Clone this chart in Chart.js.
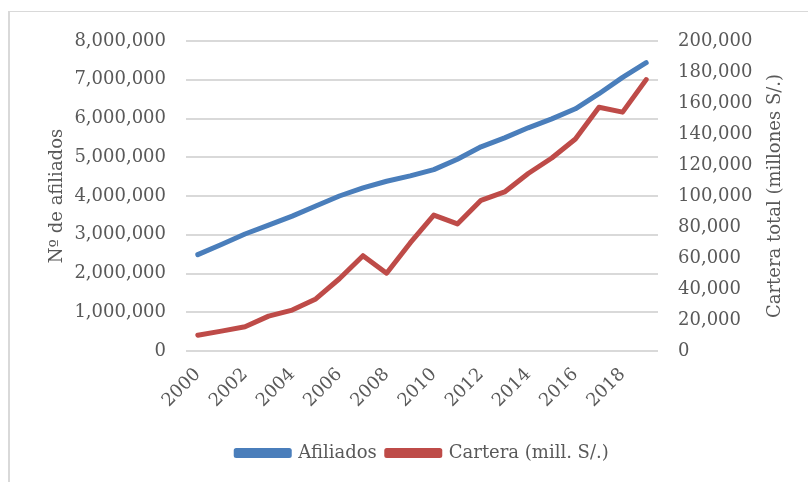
<!DOCTYPE html>
<html>
<head>
<meta charset="utf-8">
<script src="https://cdn.jsdelivr.net/npm/chart.js@4"></script>
<style>
  html, body { margin: 0; padding: 0; background: #fff; }
  #frame { position: absolute; left: 8px; top: 11px; width: 808px; height: 470px;
           border-top: 1px solid #d9d9d9; border-left: 2px solid #d9d9d9; }
  #wrap { position: absolute; left: 0; top: 0; width: 808px; height: 482px; }
</style>
</head>
<body>
<div id="frame"></div>
<div id="wrap"><canvas id="myChart"></canvas></div>
<script>
var years = ['2000', '2001', '2002', '2003', '2004', '2005', '2006', '2007', '2008', '2009',
             '2010', '2011', '2012', '2013', '2014', '2015', '2016', '2017', '2018', '2019'];
var afiliados = [2486000, 2750000, 3020000, 3250000, 3480000, 3740000, 4000000, 4210000, 4380000, 4520000,
                 4680000, 4950000, 5270000, 5500000, 5760000, 5990000, 6250000, 6640000, 7060000, 7440000];
var cartera = [10200, 12800, 15600, 22500, 26400, 33600, 46600, 61500, 50200, 69700,
               87700, 82000, 97200, 102600, 114500, 124500, 136800, 157300, 154100, 175100];
var rightTitle = 'Cartera total (millones S/.)';

var textColor = '#595959';
var fontFam = '"DejaVu Serif", serif';

// Excel puts the right axis title reading bottom-to-top, Chart.js rotates it the other way
var rightTitlePlugin = {
    id: 'rightTitle',
    afterDraw: function (chart) {
        var c = chart.ctx;
        var area = chart.chartArea;
        c.save();
        c.translate(775, (area.top + area.bottom) / 2);
        c.rotate(-Math.PI / 2);
        c.fillStyle = textColor;
        c.font = '18px ' + fontFam;
        c.textAlign = 'center';
        c.textBaseline = 'middle';
        c.fillText(rightTitle, 0, 0);
        c.restore();
    }
};

var ctx = document.getElementById('myChart').getContext('2d');
var myChart = new Chart(ctx, {
    type: 'line',
    data: {
        labels: years,
        datasets: [{
            label: 'Afiliados',
            data: afiliados,
            yAxisID: 'y',
            borderColor: '#4A7EBB',
            backgroundColor: '#4A7EBB',
            borderWidth: 5,
            borderCapStyle: 'round',
            borderJoinStyle: 'round',
            pointRadius: 0,
            tension: 0
        }, {
            label: 'Cartera (mill. S/.)',
            data: cartera,
            yAxisID: 'y1',
            borderColor: '#BE4B48',
            backgroundColor: '#BE4B48',
            borderWidth: 5,
            borderCapStyle: 'round',
            borderJoinStyle: 'round',
            pointRadius: 0,
            tension: 0
        }]
    },
    plugins: [rightTitlePlugin],
    options: {
        responsive: true,
        maintainAspectRatio: false,
        animation: false,
        layout: { padding: { left: 47, right: 10, top: 41, bottom: 10 } },
        plugins: {
            legend: {
                position: 'bottom',
                labels: {
                    boxWidth: 53,
                    boxHeight: 5,
                    padding: 10,
                    color: textColor,
                    font: { family: fontFam, size: 18 }
                }
            },
            tooltip: { enabled: false }
        },
        scales: {
            x: {
                offset: true,
                grid: { display: false },
                border: { display: false },
                ticks: {
                    autoSkip: false,
                    maxRotation: 45,
                    minRotation: 45,
                    padding: 5,
                    color: textColor,
                    font: { family: fontFam, size: 18 },
                    callback: function (v, i) { return i % 2 === 0 ? years[i] : ''; }
                },
                afterFit: function (s) { s.height = 83; }
            },
            y: {
                position: 'left',
                min: 0,
                max: 8000000,
                ticks: {
                    stepSize: 1000000,
                    padding: 20,
                    color: textColor,
                    font: { family: fontFam, size: 18 },
                    callback: function (v) { return v.toLocaleString('en-US'); }
                },
                grid: { color: '#d9d9d9', lineWidth: 2, drawTicks: false },
                border: { display: false },
                title: {
                    display: true,
                    text: 'Nº de afiliados',
                    color: textColor,
                    font: { family: fontFam, size: 18 },
                    padding: 0
                },
                afterFit: function (s) { s.width = 139; }
            },
            y1: {
                position: 'right',
                min: 0,
                max: 200000,
                ticks: {
                    stepSize: 20000,
                    padding: 20,
                    color: textColor,
                    font: { family: fontFam, size: 18 },
                    callback: function (v) { return v.toLocaleString('en-US'); }
                },
                grid: { display: false, drawTicks: false },
                border: { display: false },
                afterFit: function (s) { s.width = 140; }
            }
        }
    }
});
</script>
</body>
</html>
